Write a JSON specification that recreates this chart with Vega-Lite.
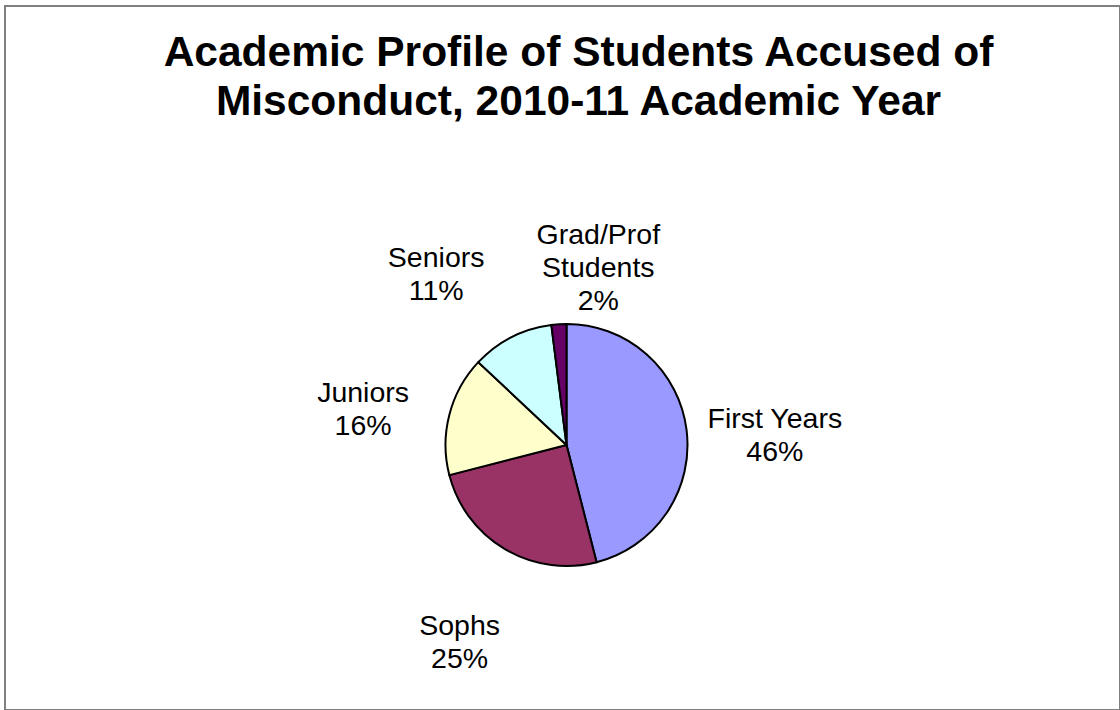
{
  "$schema": "https://vega.github.io/schema/vega-lite/v6.json",
  "width": 1115,
  "height": 704,
  "padding": {"left": 5, "top": 6, "right": 0, "bottom": 0},
  "background": "white",
  "config": {
    "view": {"stroke": "#808080", "strokeWidth": 2},
    "font": "Liberation Sans"
  },
  "title": {
    "text": ["Academic Profile of Students Accused of", "Misconduct, 2010-11 Academic Year"],
    "font": "Liberation Sans",
    "fontSize": 42.5,
    "fontWeight": "bold",
    "color": "#000000",
    "lineHeight": 49,
    "anchor": "middle",
    "frame": "group",
    "offset": -117,
    "dx": 16
  },
  "data": {
    "values": [
      {"category": "First Years", "percent": 46, "order": 1},
      {"category": "Sophs", "percent": 25, "order": 2},
      {"category": "Juniors", "percent": 16, "order": 3},
      {"category": "Seniors", "percent": 11, "order": 4},
      {"category": "Grad/Prof Students", "percent": 2, "order": 5}
    ]
  },
  "transform": [
    {"calculate": "replace(datum.category, 'Prof ', 'Prof\\n') + '\\n' + datum.percent + '%'", "as": "label"}
  ],
  "encoding": {
    "theta": {"field": "percent", "type": "quantitative", "stack": true},
    "order": {"field": "order", "type": "quantitative"},
    "x": {"datum": 0.5036, "type": "quantitative", "scale": {"domain": [0, 1]}, "axis": null},
    "y": {"datum": 0.6236, "type": "quantitative", "scale": {"domain": [0, 1], "reverse": true}, "axis": null}
  },
  "layer": [
    {
      "mark": {"type": "arc", "outerRadius": 121, "stroke": "#000000", "strokeWidth": 2},
      "encoding": {
        "color": {
          "field": "category",
          "type": "nominal",
          "scale": {
            "domain": ["First Years", "Sophs", "Juniors", "Seniors", "Grad/Prof Students"],
            "range": ["#9999FF", "#993366", "#FFFFCC", "#CCFFFF", "#660066"]
          },
          "legend": null
        }
      }
    },
    {
      "mark": {
        "type": "text",
        "radius": 210,
        "fontSize": 28.5,
        "lineHeight": 33,
        "lineBreak": "\n",
        "font": "Liberation Sans",
        "color": "#000000",
        "align": "center",
        "dx": {"expr": "(((datum.percent_start + datum.percent_end) / 2 > 97 || (datum.percent_start + datum.percent_end) / 2 < 3) ? 1 : ((datum.percent_start + datum.percent_end) / 2 > 85 ? -1 : 0)) * indexof(datum.label, '\\n') * 5"},
        "baseline": "middle"
      },
      "encoding": {
        "text": {"field": "label", "type": "nominal"}
      }
    }
  ]
}
